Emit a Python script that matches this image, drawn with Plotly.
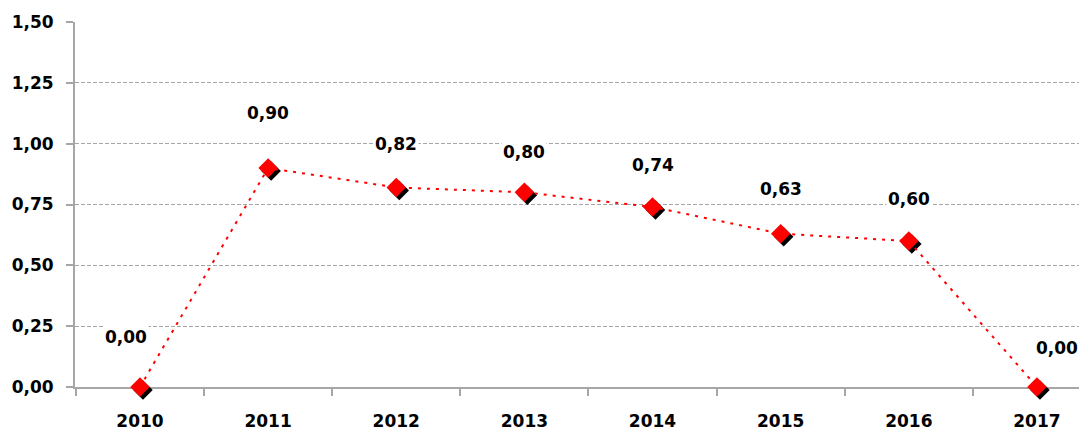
import plotly.graph_objects as go

years = ["2010", "2011", "2012", "2013", "2014", "2015", "2016", "2017"]
values = [0.00, 0.90, 0.82, 0.80, 0.74, 0.63, 0.60, 0.00]
y_ticks = [0, 0.25, 0.5, 0.75, 1.0, 1.25, 1.5]

# label offsets (px) as placed in the original chart
label_dx = [-14, 0, 0, 0, 0, 0, 0, 20]
label_dy = [50, 55, 43, 40, 42, 45, 42, 39]

# page has an 8px body margin, so the figure is made 8px smaller
W, H = 1079, 428
ml, mr, mt, mb = 67, 0, 14, 46
pw = W - ml - mr
ph = H - mt - mb
sh = 3  # shadow offset px
unit = 128.14
x0 = -0.507
x1 = x0 + (pw - sh) / unit

FONT = "DejaVu Sans"
GRAY = "#a6a6a6"
CLEAR = "rgba(0,0,0,0)"

fig = go.Figure()

# main axes (grid + ticks), invisible dummy trace
fig.add_trace(go.Scatter(x=years, y=values, mode="markers", marker=dict(opacity=0),
                         hoverinfo="skip", showlegend=False, xaxis="x", yaxis="y"))
# shadow
fig.add_trace(go.Scatter(x=years, y=values, mode="markers",
                         marker=dict(symbol="diamond", size=15, color="black"),
                         cliponaxis=False, showlegend=False, hoverinfo="skip",
                         xaxis="x2", yaxis="y2"))
# series
fig.add_trace(go.Scatter(x=years, y=values, mode="lines+markers",
                         line=dict(color="#ff0000", width=2, dash="3px,6px"),
                         marker=dict(symbol="diamond", size=15, color="#ff0000"),
                         cliponaxis=False, showlegend=False,
                         xaxis="x3", yaxis="y3"))

annotations = []
for i, v in enumerate(values):
    annotations.append(dict(x=i, y=v, xref="x", yref="y",
                            text=f"{v:.2f}".replace(".", ","), showarrow=False,
                            xshift=label_dx[i], yshift=label_dy[i],
                            bgcolor="white", borderpad=1,
                            font=dict(family=FONT, size=17, color="black")))

main_dx = [0, (pw - sh) / pw]
main_dy = [sh / ph, 1]
shadow_dx = [sh / pw, 1]
shadow_dy = [0, (ph - sh) / ph]

hidden = dict(visible=False, showgrid=False, zeroline=False)
tickfont = dict(family=FONT, size=17, color="black", weight="bold")

fig.update_layout(
    width=W, height=H,
    margin=dict(l=ml, r=mr, t=mt, b=mb),
    paper_bgcolor="white", plot_bgcolor=CLEAR,
    separators=",.",
    font=dict(family=FONT, size=17, color="black", weight="bold"),
    annotations=annotations,
    xaxis=dict(type="category", domain=main_dx, range=[x0, x1], anchor="y",
               showline=True, linecolor=GRAY, linewidth=2, layer="below traces",
               ticks="outside", tickson="boundaries", ticklen=7, tickcolor=GRAY, tickwidth=2,
               showgrid=False, zeroline=False, tickfont=tickfont, ticklabelstandoff=18,
               automargin=False),
    yaxis=dict(domain=main_dy, range=[0, 1.5], anchor="x",
               tickvals=y_ticks, tickformat=".2f",
               showline=True, linecolor=GRAY, linewidth=2, layer="below traces",
               ticks="outside", ticklen=7, tickcolor=GRAY, tickwidth=2,
               showgrid=True, gridcolor=GRAY, griddash="4px,2px", gridwidth=1,
               zeroline=False, tickfont=tickfont, ticklabelstandoff=9,
               automargin=False),
    xaxis2=dict(type="category", domain=shadow_dx, range=[x0, x1], anchor="y2", **hidden),
    yaxis2=dict(domain=shadow_dy, range=[0, 1.5], anchor="x2", **hidden),
    xaxis3=dict(type="category", domain=main_dx, range=[x0, x1], anchor="y3", **hidden),
    yaxis3=dict(domain=main_dy, range=[0, 1.5], anchor="x3", **hidden),
)

fig.write_html("out.html")
